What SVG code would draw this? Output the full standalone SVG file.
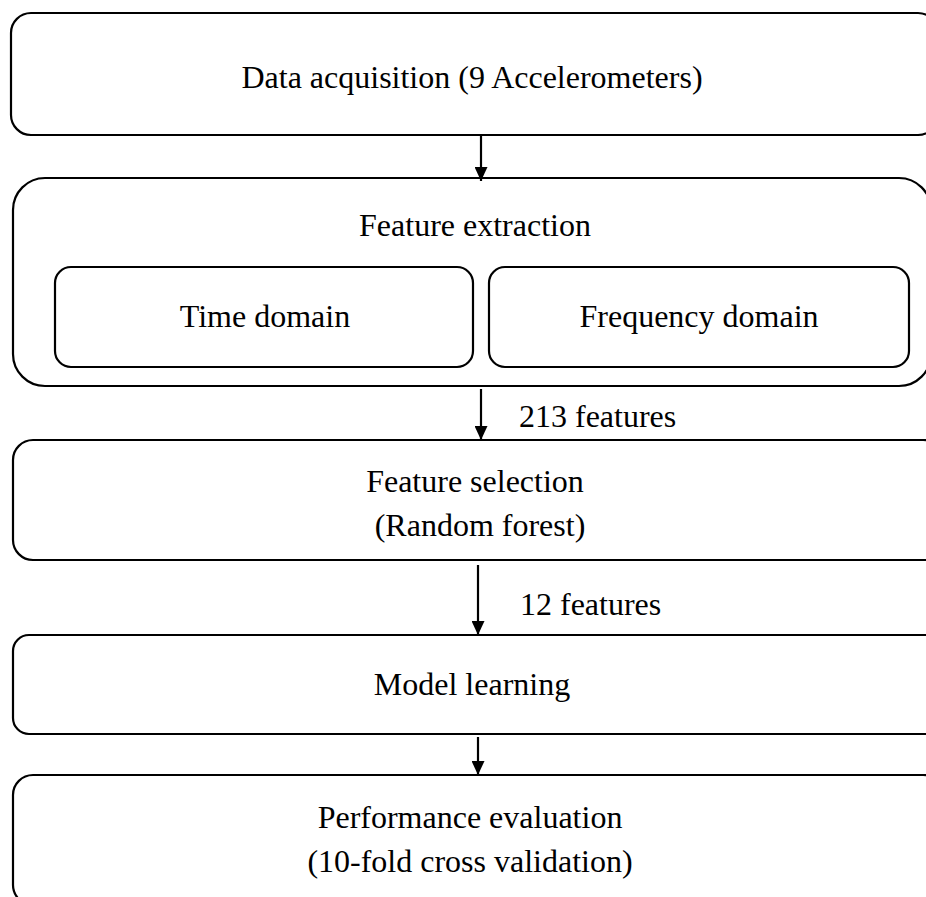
<svg xmlns="http://www.w3.org/2000/svg" width="926" height="897" viewBox="0 0 926 897">
<defs>
<style>
.box{fill:#fff;stroke:#000;stroke-width:2.2}
.t{font-family:"Liberation Serif","Times New Roman",serif;font-size:32px;fill:#000;text-anchor:middle}
.tl{font-family:"Liberation Serif","Times New Roman",serif;font-size:32px;fill:#000}
.c{stroke:#000;stroke-width:2.2;fill:none}
</style>
<marker id="ah" viewBox="0 0 14 13" refX="14" refY="6.5" markerWidth="14" markerHeight="13" markerUnits="userSpaceOnUse" orient="auto">
<path d="M0,0 L14,6.5 L0,13 Z" fill="#000"/>
</marker>
</defs>
<g id="data-acquisition">
<rect class="box" x="11" y="13" width="927" height="122" rx="20" ry="20"/>
<text class="t" x="472" y="88">Data acquisition (9 Accelerometers)</text>
</g>
<g id="feature-extraction">
<rect class="box" x="13" y="178" width="918" height="208" rx="32" ry="32"/>
<text class="t" x="475" y="236">Feature extraction</text>
</g>
<g id="time-domain">
<rect class="box" x="55" y="267" width="418" height="100" rx="16" ry="16"/>
<text class="t" x="265" y="327">Time domain</text>
</g>
<g id="frequency-domain">
<rect class="box" x="489" y="267" width="420" height="100" rx="16" ry="16"/>
<text class="t" x="699" y="327">Frequency domain</text>
</g>
<g id="feature-selection">
<rect class="box" x="13" y="440" width="930" height="120" rx="20" ry="20"/>
<text class="t" x="475" y="492">Feature selection</text>
<text class="t" x="480" y="536">(Random forest)</text>
</g>
<g id="model-learning">
<rect class="box" x="13" y="635" width="930" height="99" rx="16" ry="16"/>
<text class="t" x="472" y="695">Model learning</text>
</g>
<g id="performance-evaluation">
<rect class="box" x="13" y="775" width="930" height="130" rx="20" ry="20"/>
<text class="t" x="470" y="828">Performance evaluation</text>
<text class="t" x="470" y="872">(10-fold cross validation)</text>
</g>
<g id="connectors">
<line class="c" x1="481" y1="136" x2="481" y2="181" marker-end="url(#ah)"/>
<line class="c" x1="481" y1="389" x2="481" y2="440" marker-end="url(#ah)"/>
<line class="c" x1="478" y1="565" x2="478" y2="635" marker-end="url(#ah)"/>
<line class="c" x1="478" y1="737" x2="478" y2="775" marker-end="url(#ah)"/>
<text class="tl" x="519" y="427">213 features</text>
<text class="tl" x="520" y="615">12 features</text>
</g>
</svg>
